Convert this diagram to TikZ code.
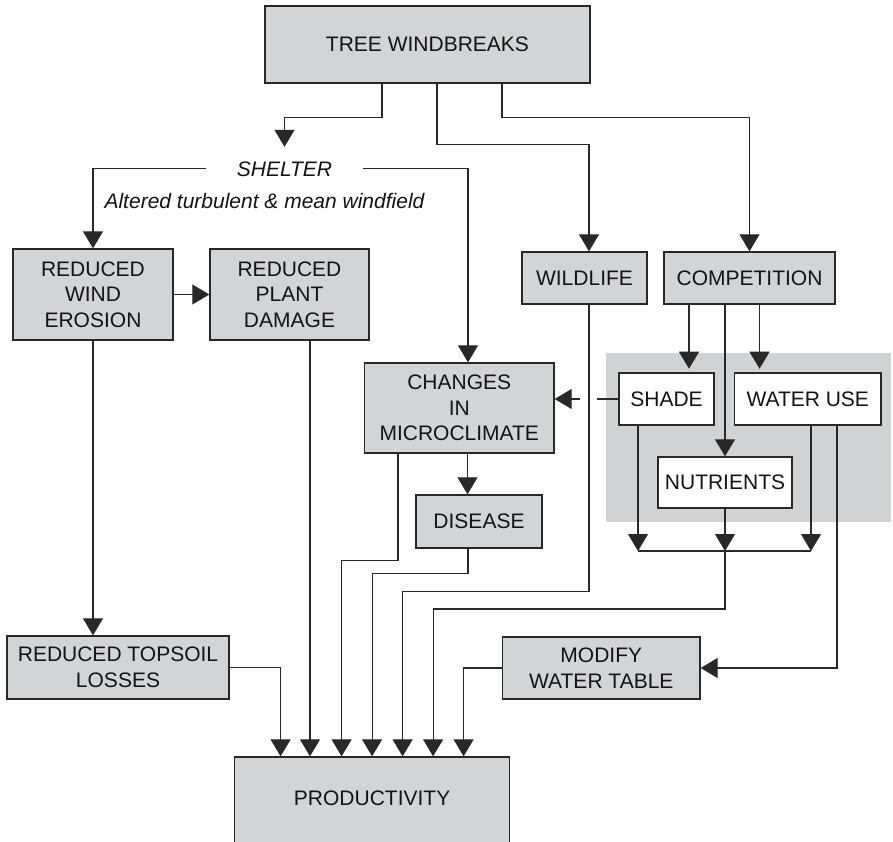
\documentclass[tikz,border=0pt]{standalone}
\usepackage{fontspec}
\setmainfont{Liberation Sans}
\usetikzlibrary{arrows.meta}
\definecolor{boxgrey}{RGB}{211,212,214}
\definecolor{regiongrey}{RGB}{209,210,212}
\definecolor{linecol}{RGB}{40,40,40}
\definecolor{textcol}{RGB}{20,20,20}
\begin{document}
\begin{tikzpicture}[x=1pt,y=-1pt,
  font=\fontsize{21}{25.5}\selectfont, text=textcol,
  gbox/.style={draw=linecol, line width=1.4pt, fill=boxgrey, inner sep=0pt, align=center},
  wbox/.style={draw=linecol, line width=1.4pt, fill=white, inner sep=0pt, align=center},
  conn/.style={draw=linecol, line width=1.2pt},
  arr/.style={conn, -{Triangle[length=17pt,width=20pt]}},
  itext/.style={font=\fontsize{21}{25.5}\selectfont\itshape},
]
\useasboundingbox (0,0) rectangle (893,841);
\fill[white] (0,0) rectangle (893,841);

% background region for competition effects
\node[fill=regiongrey, minimum width=285pt, minimum height=169pt, inner sep=0pt] (zone) at (748.5,437.5) {};

% nodes
\node[gbox, minimum width=325pt, minimum height=77pt] (tw) at (427.5,44.5) {TREE WINDBREAKS};
\node[itext, inner xsep=31pt, inner ysep=14pt, text height=15pt, text depth=0pt] (shel) at (284.5,168.5) {SHELTER};
\node[itext, inner sep=0pt] (alt) at (264.5,201) {Altered turbulent \& mean windfield};
\node[gbox, minimum width=160pt, minimum height=91pt] (rwe) at (93,294.5) {REDUCED\\WIND\\EROSION};
\node[gbox, minimum width=159pt, minimum height=91pt] (rpd) at (289.5,294.5) {REDUCED\\PLANT\\DAMAGE};
\node[gbox, minimum width=125pt, minimum height=52pt] (wild) at (584.5,278) {WILDLIFE};
\node[gbox, minimum width=171pt, minimum height=52pt] (comp) at (749.5,278) {COMPETITION};
\node[wbox, minimum width=95pt, minimum height=52pt] (shade) at (666.5,399) {SHADE};
\node[wbox, minimum width=146.5pt, minimum height=52pt] (water) at (807.75,399) {WATER USE};
\node[wbox, minimum width=134pt, minimum height=51pt] (nutr) at (725,482.5) {NUTRIENTS};
\node[gbox, minimum width=189.5pt, minimum height=90pt] (chg) at (459.25,408) {CHANGES\\IN\\MICROCLIMATE};
\node[gbox, minimum width=126pt, minimum height=53pt] (dis) at (479,521.5) {DISEASE};
\node[gbox, minimum width=222pt, minimum height=63pt] (rtl) at (118,667.5) {REDUCED TOPSOIL\\LOSSES};
\node[gbox, minimum width=197.4pt, minimum height=62pt] (mwt) at (601.3,668) {MODIFY\\WATER TABLE};
\node[gbox, minimum width=274.8pt, minimum height=110pt, text height=15pt, text depth=28pt] (prod) at (372.1,812) {PRODUCTIVITY};

% entry points on productivity
\coordinate (p1) at ([xshift=-91.5pt]prod.north);
\coordinate (p2) at ([xshift=-61pt]prod.north);
\coordinate (p3) at ([xshift=-30.5pt]prod.north);
\coordinate (p4) at ([xshift=0pt]prod.north);
\coordinate (p5) at ([xshift=30.5pt]prod.north);
\coordinate (p6) at ([xshift=61pt]prod.north);
\coordinate (p7) at ([xshift=91.5pt]prod.north);
% merge line
\coordinate (jl) at (638,551);
\coordinate (jm) at (725,551);
\coordinate (jr) at (811,551);
% gap point of shade -> microclimate
\coordinate (sgap) at ([xshift=-38pt]shade.west);

% connectors from tree windbreaks
\draw[arr] ([xshift=-45.5pt]tw.south) -- ++(0,34) -| (shel.north);
\draw[arr] ([xshift=9.5pt]tw.south) -- ++(0,61) -| ([xshift=4.5pt]wild.north);
\draw[arr] ([xshift=74.5pt]tw.south) -- ++(0,34) -| (comp.north);

% shelter
\draw[arr] (shel.west) -| (rwe.north);
\draw[arr] (shel.east) -| ([xshift=8.75pt]chg.north);
\draw[arr] (rwe.east) -- (rpd.west);
\draw[arr] (rwe.south) -- (rwe.south |- rtl.north);
\draw[arr] ([xshift=8.25pt]chg.south) -- ([xshift=8.25pt]chg.south |- dis.north);

% competition
\draw[arr] ([xshift=-60.5pt]comp.south) -- ++(0,64);
\draw[arr] ([xshift=-24.5pt]comp.south) -- (nutr.north);
\draw[arr] ([xshift=10pt]comp.south) -- ++(0,64);
\draw[conn] (shade.west) -- ++(-21,0);
\draw[arr] (sgap) -- (sgap -| chg.east);
\draw[arr] ([xshift=-28.5pt]shade.south) -- (jl);
\draw[arr] (nutr.south) -- (jm);
\draw[arr] ([xshift=3.25pt]water.south) -- (jr);
\draw[conn] (jl) -- (jr);
\draw[arr] ([xshift=29.25pt]water.south) |- (mwt.east);

% into productivity
\draw[arr] (rtl.east) -| (p1);
\draw[arr] ([xshift=20.5pt]rpd.south) -- ([xshift=20.5pt]rpd.south |- prod.north);
\draw[arr] ([xshift=-61.25pt]chg.south) -- ++(0,107) -| (p3);
\draw[arr] ([xshift=-11pt]dis.south) -- ++(0,25) -| (p4);
\draw[arr] ([xshift=4.5pt]wild.south) -- ++(0,287) -| (p5);
\draw[arr] (jm) -- ++(0,58) -| (p6);
\draw[arr] (mwt.west) -| (p7);
\end{tikzpicture}
\end{document}
